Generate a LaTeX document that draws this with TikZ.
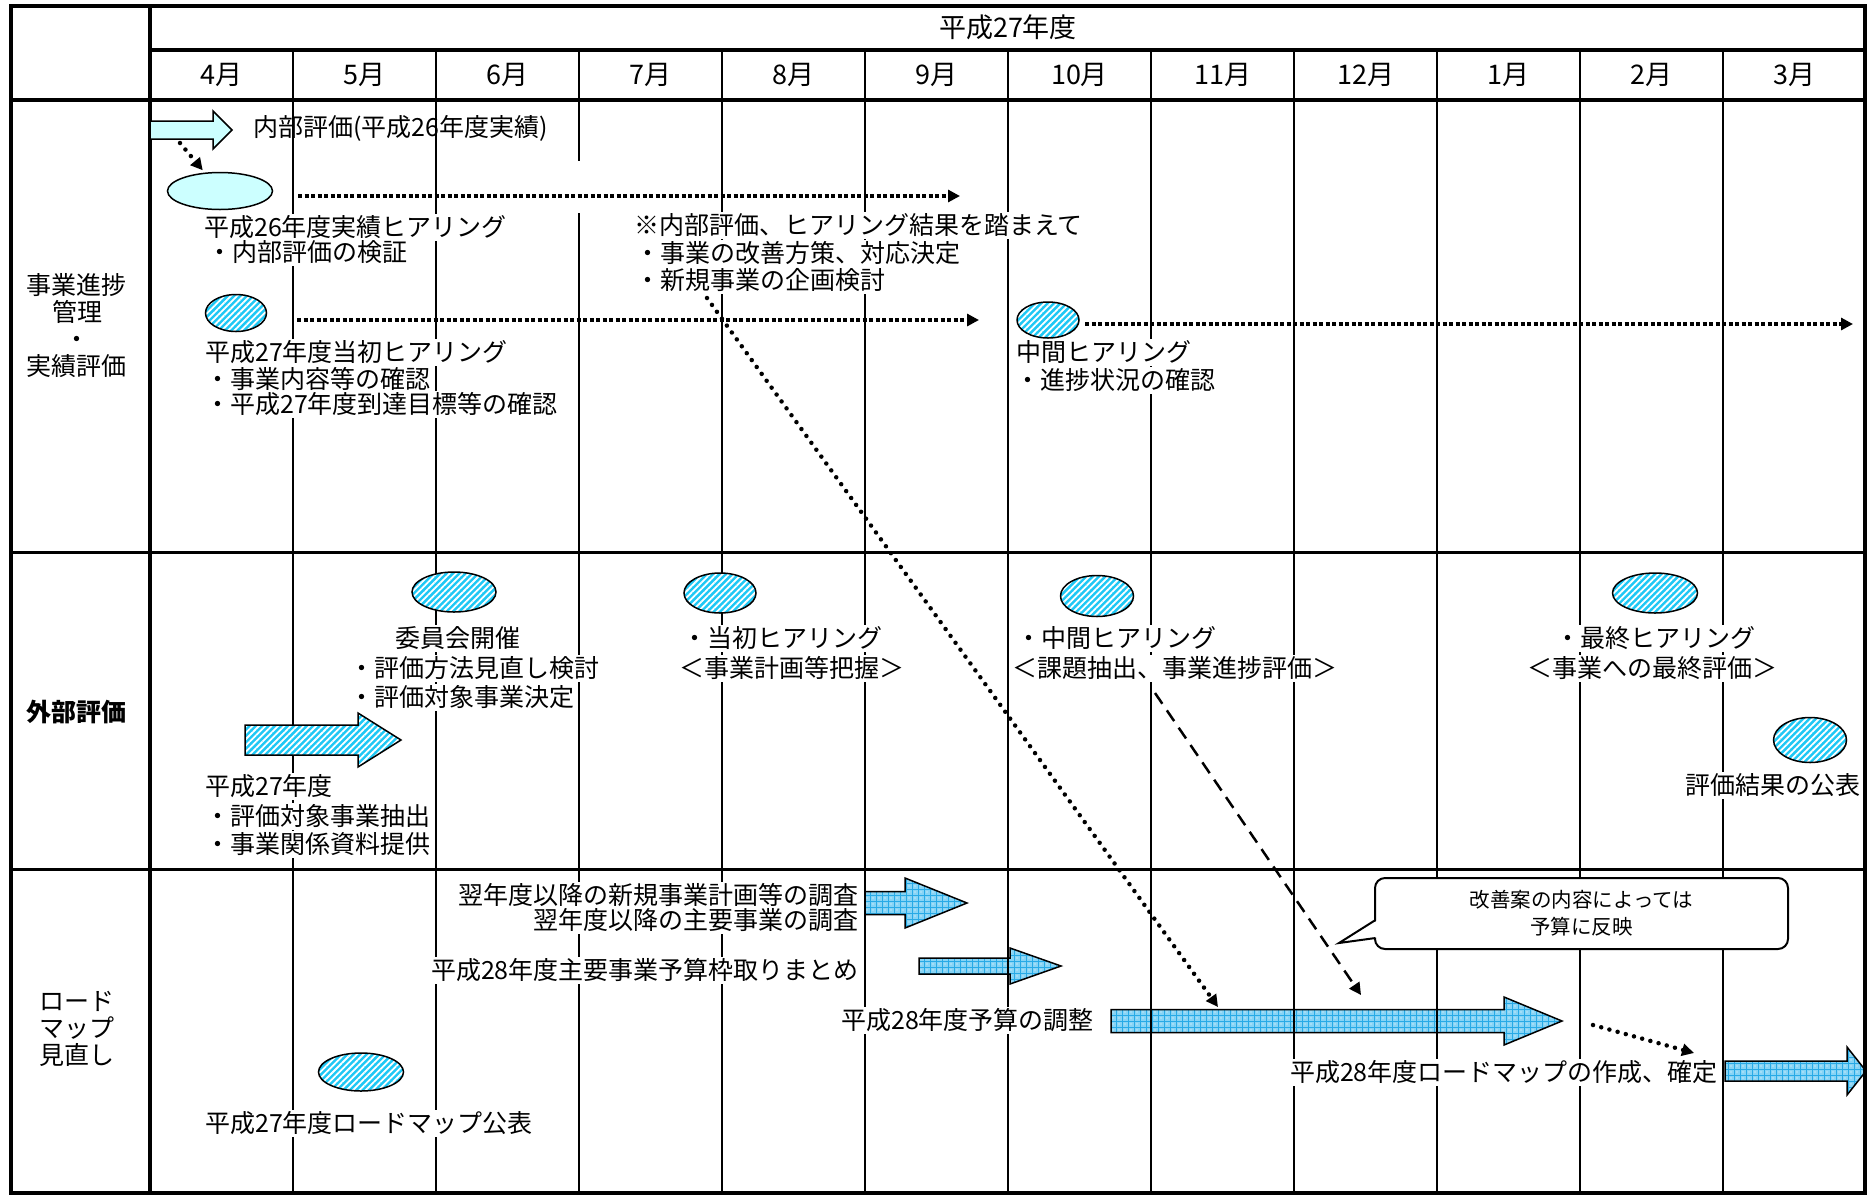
\documentclass[tikz,border=0pt]{standalone}
\usepackage{fontspec}
\setmainfont{Noto Sans CJK JP}
\usetikzlibrary{arrows.meta,shapes.geometric,patterns.meta}
\definecolor{lcyan}{RGB}{204,255,255}
\definecolor{hcyan}{RGB}{30,200,245}
\definecolor{gbase}{RGB}{135,212,245}
\definecolor{gline}{RGB}{40,170,230}
\newcommand{\blkarrow}[7]{%
  \draw[#1] (#2,#5-#6) -- (#3,#5-#6) -- (#3,#5-#7) -- (#4,#5) -- (#3,#5+#7) -- (#3,#5+#6) -- (#2,#5+#6) -- cycle;}
\tikzset{
  txt/.style={font=\fontsize{25}{28}\selectfont, inner sep=1pt, text height=22pt, text depth=3pt, fill=white},
  hdr/.style={font=\fontsize{27}{30}\selectfont, inner sep=1pt},
  lab/.style={font=\fontsize{25}{27}\selectfont, align=center, inner sep=0pt},
  ell/.style={ellipse, draw, line width=1.5pt, inner sep=0pt},
  hatchfill/.style={preaction={fill=hcyan}, pattern={Lines[angle=45,distance=4.5pt,line width=1.8pt]}, pattern color=white},
  gridfill/.style={preaction={fill=gbase}, preaction={pattern={Hatch[distance=6pt,line width=0.7pt]}, pattern color=gline}, pattern={Dots[distance=6pt,radius=0.7pt,xshift=3pt,yshift=3pt]}, pattern color=white, draw, line width=1.5pt},
  sqdot/.style={line width=4pt, dash pattern=on 4pt off 2.5pt, -{Triangle[length=12pt,width=12pt]}},
  rddot/.style={line width=4.5pt, line cap=round, dash pattern=on 0pt off 8.5pt, -{Triangle[length=12pt,width=12pt]}},
  dsh/.style={line width=2.5pt, dash pattern=on 13pt off 8pt, -{Triangle[length=12pt,width=12pt]}},
  mline/.style={line width=2pt},
  tline/.style={line width=4pt},
}
\begin{document}
\begin{tikzpicture}[x=1pt, y=-1pt]
\fill[white] (0,0) rectangle (1868,1195);
\useasboundingbox (0,0) rectangle (1868,1195);

% grid block arrows (transparent to the month lines)
\blkarrow{gridfill}{865}{905}{967}{903}{11.5}{25}
\blkarrow{gridfill}{919}{1010}{1061}{966}{8}{18}
\blkarrow{gridfill}{1111}{1504}{1562}{1021}{11.5}{24}
\blkarrow{gridfill}{1725}{1847}{1866}{1071}{10}{24}

% table
\foreach \k in {1,...,11} {\draw[mline] ({150+143*\k},50) -- ({150+143*\k},1193);}
\draw[line width=3pt] (11,552) -- (1865,552);
\draw[line width=3pt] (11,869) -- (1865,869);
\draw[tline] (150,50) -- (1865,50);
\draw[tline] (11,100) -- (1865,100);
\draw[tline] (150,6) -- (150,1193);
\draw[line width=3.5pt] (11,6) rectangle (1865,1193);
\fill[white] (575,161) rectangle (583,213);

% header
\node[hdr] (hd) at (1008,27) {平成27年度};
\foreach \m [count=\k] in {4月,5月,6月,7月,8月,9月,10月,11月,12月,1月,2月,3月}
  \node[hdr] (m\k) at ({150+143*(\k-0.5)},75) {\m};

% row labels
\node[lab] (r1) at (77,326) {事業進捗\\管理\\・\\実績評価};
\node[lab] (r2) at (77,712) {\bfseries 外部評価};
\node[lab] (r3) at (77,1029) {ロード\\マップ\\見直し};

% opaque block arrows
\blkarrow{draw, line width=1.5pt, fill=lcyan}{150}{213}{232}{130}{9}{19}
\blkarrow{hatchfill, draw, line width=1.5pt}{245}{358}{401}{740}{15}{27}

% ellipses
\node[ell, fill=lcyan, minimum width=105pt, minimum height=37pt] (e1) at (220,191) {};
\node[ell, hatchfill, minimum width=61pt, minimum height=37pt] (e2) at (236,313) {};
\node[ell, hatchfill, minimum width=62pt, minimum height=36pt] (e3) at (1048,320) {};
\node[ell, hatchfill, minimum width=84pt, minimum height=40pt] (e4) at (454,592) {};
\node[ell, hatchfill, minimum width=72pt, minimum height=40pt] (e5) at (720,593) {};
\node[ell, hatchfill, minimum width=73pt, minimum height=41pt] (e6) at (1097,596) {};
\node[ell, hatchfill, minimum width=85pt, minimum height=40pt] (e7) at (1655,593) {};
\node[ell, hatchfill, minimum width=73pt, minimum height=45pt] (e8) at (1810,740) {};
\node[ell, hatchfill, minimum width=85pt, minimum height=38pt] (e9) at (361,1072) {};

% row 1 texts
\node[txt, fill=none, anchor=west] (t1) at (252,127) {内部評価(平成26年度実績)};
\node[txt, anchor=west] (t2) at (203,227) {平成26年度実績ヒアリング};
\node[txt, anchor=west] (t3) at (206,252) {・内部評価の検証};
\node[txt, anchor=west] (t4) at (204,352) {平成27年度当初ヒアリング};
\node[txt, anchor=west] (t5) at (204,379) {・事業内容等の確認};
\node[txt, anchor=west] (t6) at (204,404) {・平成27年度到達目標等の確認};
\node[txt, anchor=west] (t7) at (633,225) {※内部評価、ヒアリング結果を踏まえて};
\node[txt, anchor=west] (t8) at (634,253) {・事業の改善方策、対応決定};
\node[txt, anchor=west] (t9) at (634,280) {・新規事業の企画検討};
\node[txt, anchor=west] (t10) at (1015,352) {中間ヒアリング};
\node[txt, anchor=west] (t11) at (1014,380) {・進捗状況の確認};

% row 2 texts
\node[txt, anchor=west] (u1) at (394,638) {委員会開催};
\node[txt, anchor=west] (u2) at (348,668) {・評価方法見直し検討};
\node[txt, anchor=west] (u3) at (348,697) {・評価対象事業決定};
\node[txt, anchor=west] (u4) at (681,638) {・当初ヒアリング};
\node[txt, anchor=west] (u5) at (678,668) {＜事業計画等把握＞};
\node[txt, anchor=west] (u6) at (1015,638) {・中間ヒアリング};
\node[txt, anchor=west] (u7) at (1011,668) {＜課題抽出、事業進捗評価＞};
\node[txt, anchor=west] (u8) at (1554,638) {・最終ヒアリング};
\node[txt, anchor=west] (u9) at (1526,668) {＜事業への最終評価＞};
\node[txt, anchor=east] (u10) at (1862,785) {評価結果の公表};
\node[txt, anchor=west] (u11) at (204,786) {平成27年度};
\node[txt, anchor=west] (u12) at (204,816) {・評価対象事業抽出};
\node[txt, anchor=west] (u13) at (204,844) {・事業関係資料提供};

% row 3 texts
\node[txt, anchor=east] (v1) at (860,895) {翌年度以降の新規事業計画等の調査};
\node[txt, anchor=east] (v2) at (860,920) {翌年度以降の主要事業の調査};
\node[txt, anchor=east] (v3) at (860,970) {平成28年度主要事業予算枠取りまとめ};
\node[txt, anchor=west] (v4) at (840,1020) {平成28年度予算の調整};
\node[txt, anchor=west] (v5) at (204,1123) {平成27年度ロードマップ公表};
\node[txt, anchor=east] (v6) at (1719,1072) {平成28年度ロードマップの作成、確定};

% callout
\node[draw, line width=2pt, fill=white, rounded corners=10pt, minimum width=413pt, minimum height=71pt, align=center, inner sep=0pt, font=\fontsize{20.5}{27}\selectfont] (co) at (1581.5,913.5) {改善案の内容によっては\\予算に反映};
\fill[white] (1377,920.5) -- (1339,943) -- (1377,937.5) -- cycle;
\draw[line width=2pt] (1375.5,920) -- (1339,943) -- (1375.5,938);

% connectors
\coordinate (c1s) at (180,143);
\coordinate (c2s) at (298,196);  \coordinate (c2e) at (960,196);
\coordinate (c3s) at (297,320);  \coordinate (c3e) at (979,320);
\coordinate (c4s) at (1085,324); \coordinate (c4e) at (1853,324);
\coordinate (c5s) at (707,298);  \coordinate (c5e) at (1218,1007);
\coordinate (c6s) at (1155,693); \coordinate (c6e) at (1361,995);
\coordinate (c7s) at (1593,1025); \coordinate (c7e) at (1694,1053);
\draw[rddot, shorten >=3pt] (c1s) -- (e1);
\draw[sqdot] (c2s) -- (c2e);
\draw[sqdot] (c3s) -- (c3e);
\draw[sqdot] (c4s) -- (c4e);
\draw[rddot] (c5s) -- (c5e);
\draw[dsh] (c6s) -- (c6e);
\draw[rddot] (c7s) -- (c7e);
\end{tikzpicture}
\end{document}
